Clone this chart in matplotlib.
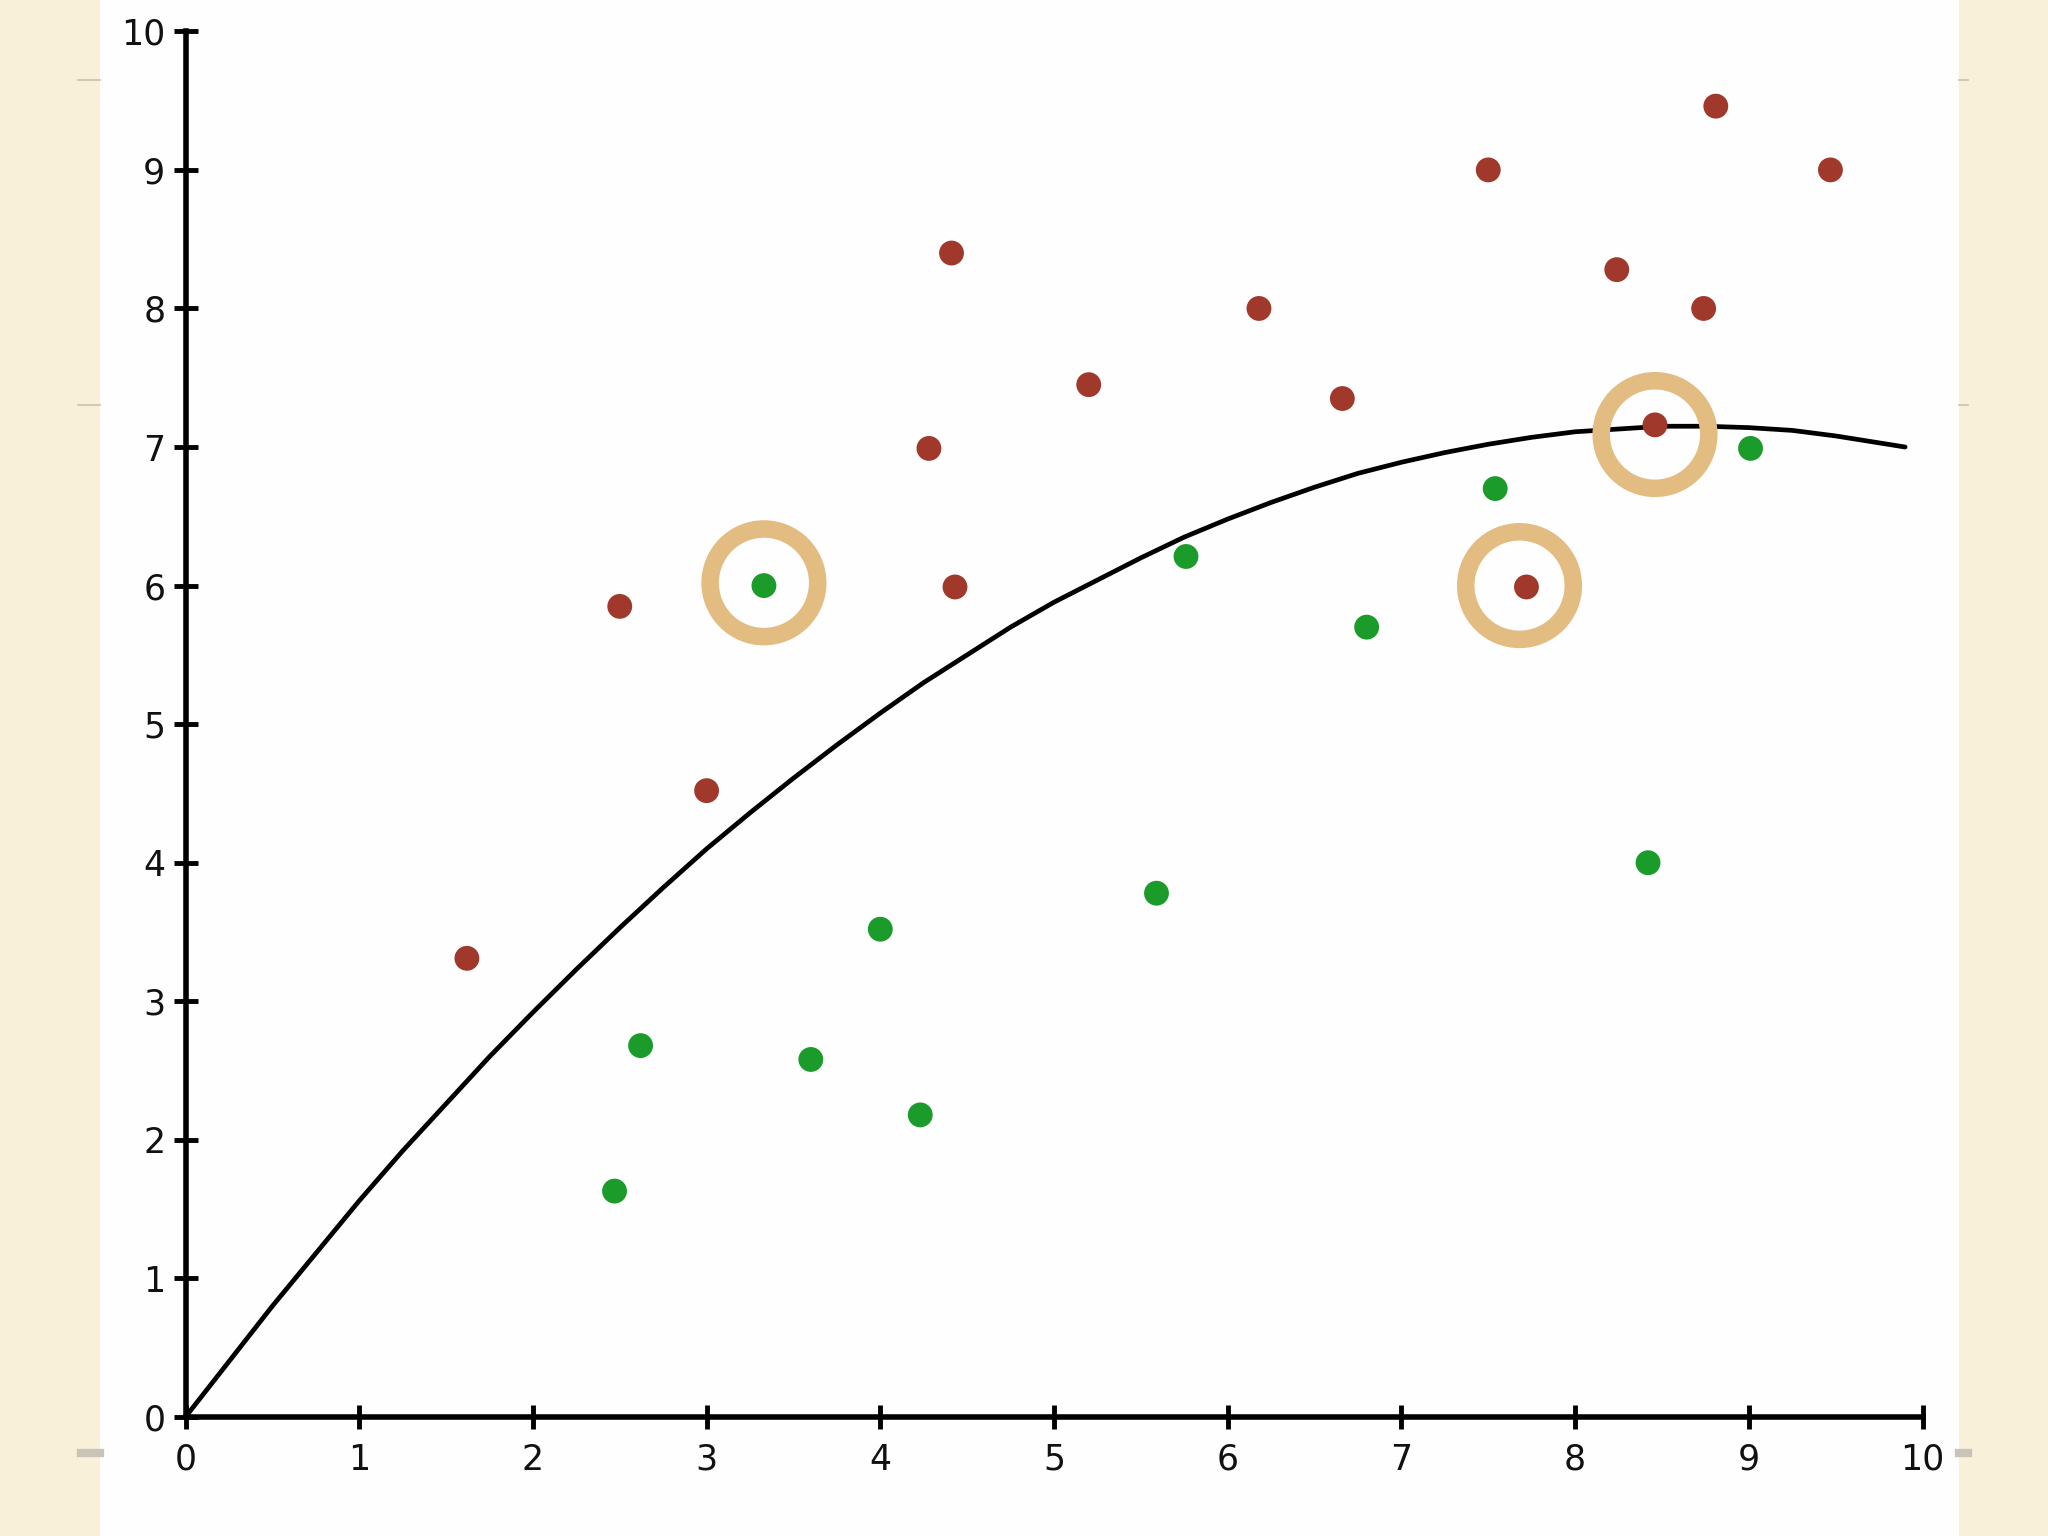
import matplotlib
matplotlib.use("Agg")
import matplotlib.pyplot as plt
from matplotlib.patches import Rectangle
from matplotlib.lines import Line2D

# red class points
red_x = [1.62, 2.50, 3.00, 4.28, 4.41, 4.43, 5.20, 6.18, 6.66, 7.50, 7.72, 8.24, 8.46, 8.74, 8.81, 9.47]
red_y = [3.31, 5.85, 4.52, 6.99, 8.40, 5.99, 7.45, 8.00, 7.35, 9.00, 5.99, 8.28, 7.16, 8.00, 9.46, 9.00]

# green class points
green_x = [2.47, 2.62, 3.33, 3.60, 4.00, 4.23, 5.59, 5.76, 6.80, 7.54, 8.42, 9.01]
green_y = [1.63, 2.68, 6.00, 2.58, 3.52, 2.18, 3.78, 6.21, 5.70, 6.70, 4.00, 6.99]

# misclassified points (rings)
ring_x = [3.33, 7.68, 8.46]
ring_y = [6.02, 6.00, 7.09]

# decision boundary
curve_x = [0, 0.25, 0.5, 0.75, 1, 1.25, 1.5, 1.75, 2, 2.25, 2.5, 2.75, 3, 3.25, 3.5, 3.75,
           4, 4.25, 4.5, 4.75, 5, 5.25, 5.5, 5.75, 6, 6.25, 6.5, 6.75, 7, 7.25, 7.5, 7.75,
           8, 8.25, 8.5, 8.75, 9, 9.25, 9.5, 9.75, 9.9]
curve_y = [0, 0.40, 0.80, 1.18, 1.56, 1.92, 2.26, 2.60, 2.92, 3.23, 3.53, 3.82, 4.10, 4.36,
           4.61, 4.85, 5.08, 5.30, 5.50, 5.70, 5.88, 6.04, 6.20, 6.35, 6.48, 6.60, 6.71, 6.81,
           6.89, 6.96, 7.02, 7.07, 7.11, 7.13, 7.15, 7.15, 7.14, 7.12, 7.08, 7.03, 7.00]

ticks = list(range(0, 11))

fig = plt.figure(figsize=(20.48, 15.36), dpi=100, facecolor="#F8F0D8")

# white slide panel, behind everything
fig.add_artist(Rectangle((100 / 2048, 0), (1959 - 100) / 2048, 1,
                         transform=fig.transFigure, facecolor="#FEFEFE",
                         edgecolor="none", zorder=-10))
# small marks on the cream margin
for yy in [1 - 80 / 1536, 1 - 405 / 1536]:
    fig.add_artist(Line2D([78 / 2048, 100 / 2048], [yy, yy], transform=fig.transFigure,
                          color="#C9C2AE", lw=1.2, zorder=-5))
    fig.add_artist(Line2D([1959 / 2048, 1968 / 2048], [yy, yy], transform=fig.transFigure,
                          color="#C9C2AE", lw=1.2, zorder=-5))
yy = 1 - 1453 / 1536
fig.add_artist(Line2D([81 / 2048, 100 / 2048], [yy, yy], transform=fig.transFigure,
                      color="#C8C4B6", lw=6, zorder=-5))
fig.add_artist(Line2D([1959 / 2048, 1968 / 2048], [yy, yy], transform=fig.transFigure,
                      color="#C8C4B6", lw=6, zorder=-5))

ax = fig.add_axes([185.5 / 2048, 0.0775, (1922.5 - 185.5) / 2048, 0.9796 - 0.0775])
ax.set_facecolor("none")
ax.set_zorder(2)

ax.plot(curve_x, curve_y, color="black", lw=3.4, solid_capstyle="round",
        solid_joinstyle="round", zorder=3)
ax.scatter(red_x, red_y, s=320, color="#A0392C", edgecolors="none", zorder=4, clip_on=False)
ax.scatter(green_x, green_y, s=320, color="#1B9C2A", edgecolors="none", zorder=4, clip_on=False)
ax.scatter(ring_x, ring_y, s=6000, facecolors="none", edgecolors="#E2BC80",
           linewidths=12.6, zorder=5, clip_on=False)

ax.set_xlim(0, 10)
ax.set_ylim(0, 10)
ax.set_xticks(ticks)
ax.set_yticks(ticks)
for s in ["top", "right"]:
    ax.spines[s].set_visible(False)
for s in ["left", "bottom"]:
    ax.spines[s].set_linewidth(4)
    ax.spines[s].set_zorder(6)
ax.tick_params(axis="both", direction="inout", length=17, width=3.5,
               labelsize=25, color="black", labelcolor="#111111")
ax.tick_params(axis="x", pad=10)
ax.tick_params(axis="y", pad=6)

plt.savefig("out.png", dpi=100, facecolor=fig.get_facecolor())
